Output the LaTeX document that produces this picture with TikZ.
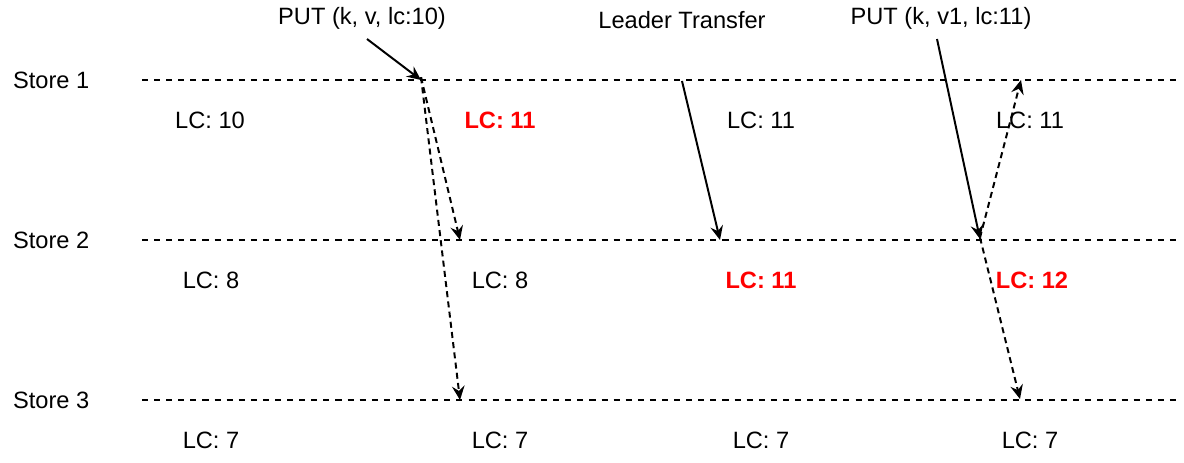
\documentclass[tikz,border=0pt]{standalone}
\usepackage{fontspec}
\setmainfont{Liberation Sans}
\usetikzlibrary{arrows.meta, positioning}
\definecolor{bumped}{HTML}{FF0000}

\begin{document}
\begin{tikzpicture}[x=0.025cm, y=-0.025cm,
    every node/.style={font=\fontsize{16.8}{20}\selectfont, inner sep=2pt},
    timeline/.style={line width=1.4pt, dash pattern=on 4.3pt off 4.3pt},
    msg/.style={line width=1.4pt, -{Stealth[length=10pt, width=9pt, inset=3.5pt]}},
    repl/.style={msg, dash pattern=on 4.3pt off 3pt},
    lc/.style={text=black},
    lcnew/.style={text=bumped, font=\fontsize{16.8}{20}\selectfont\bfseries}]
  \useasboundingbox (0,0) rectangle (1184,462);

  % stores and their time lines
  \foreach \i/\y in {1/80, 2/240, 3/400}{%
    \node[anchor=west] (store\i) at (10,\y) {Store \i};
    \coordinate (line\i-a) at (142,\y);
    \coordinate (line\i-b) at (1180,\y);
    \draw[timeline] (line\i-a) -- (line\i-b);
  }

  % requests
  \node (put1) at (362,18) {PUT (k, v, lc:10)};
  \node (transfer) at (682,20) {Leader Transfer};
  \node (put2) at (941,18) {PUT (k, v1, lc:11)};

  \coordinate (put1-from) at (367,39);
  \coordinate (put1-at) at (421,80);
  \coordinate (tr-from) at (682,81);
  \coordinate (tr-at) at (720,240);
  \coordinate (put2-from) at (937,39);
  \coordinate (put2-at) at (980,239);

  \coordinate (put1-s2) at (460,240);
  \coordinate (put1-s3) at (460,400);
  \coordinate (put2-s1) at (1021,80);
  \coordinate (put2-s3) at (1020,399);

  \draw[msg] (put1-from) -- (put1-at);
  \draw[msg] (tr-from) -- (tr-at);
  \draw[msg] (put2-from) -- (put2-at);

  % replication
  \draw[repl] ([yshift=2]put1-at) -- (put1-s2);
  \draw[repl] ([yshift=2]put1-at) -- (put1-s3);
  \draw[repl] ([yshift=1]put2-at) -- (put2-s1);
  \draw[repl] ([yshift=1]put2-at) -- (put2-s3);

  % logical clocks
  \foreach \n/\x/\y/\txt/\sty in {%
    a/210/120/10/lc, b/500/120/11/lcnew, c/761/120/11/lc, d/1030/120/11/lc,
    e/211/280/8/lc, f/500/280/8/lc, g/761/280/11/lcnew, h/1032/280/12/lcnew,
    i/211/440/7/lc, j/500/440/7/lc, k/761/440/7/lc, l/1030/440/7/lc}{%
    \node[\sty] (lc-\n) at (\x,\y) {LC: \txt};
  }
\end{tikzpicture}
\end{document}
